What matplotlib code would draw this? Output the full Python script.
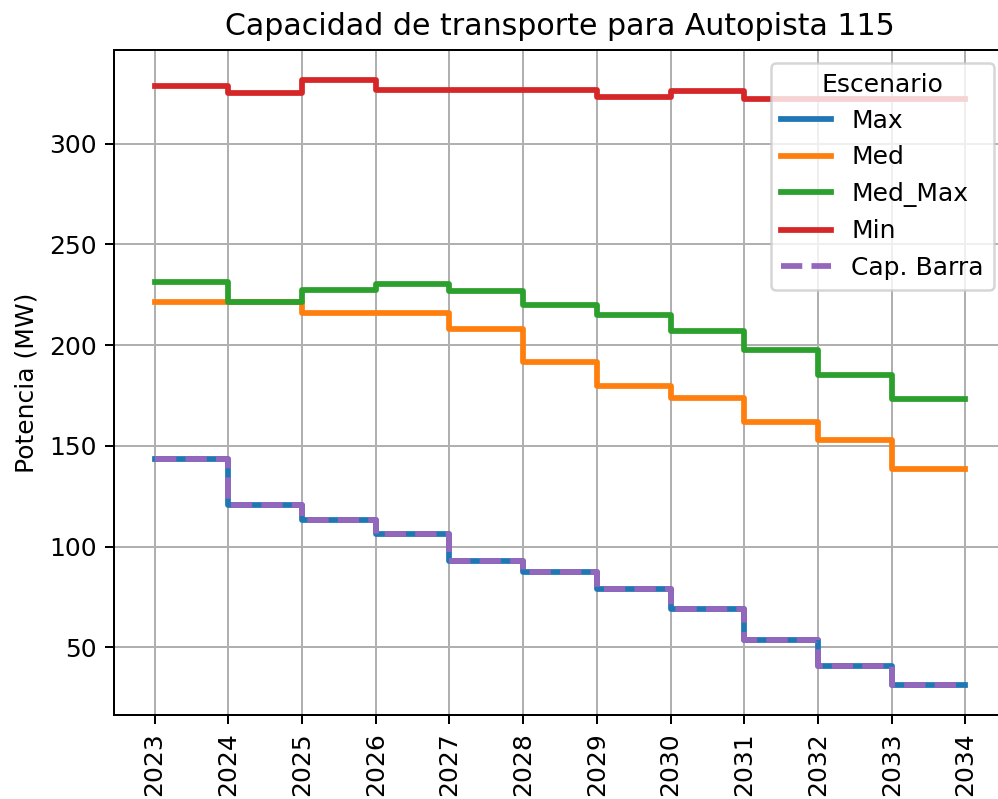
import matplotlib
matplotlib.use("Agg")
import matplotlib.pyplot as plt

years = [2023, 2024, 2025, 2026, 2027, 2028, 2029, 2030, 2031, 2032, 2033, 2034]
max_vals = [143.7, 120.6, 113.4, 106.3, 93.1, 87.4, 78.8, 69.3, 53.9, 40.6, 31.5, 31.5]
med_vals = [221.4, 221.4, 216.0, 216.0, 208.0, 191.6, 180.0, 173.9, 162.0, 152.8, 138.5, 138.5]
medmax_vals = [231.3, 221.4, 227.6, 230.3, 226.7, 219.8, 215.2, 207.3, 197.4, 185.0, 173.4, 173.4]
min_vals = [328.6, 325.2, 331.5, 326.6, 326.6, 326.6, 323.3, 326.1, 322.4, 322.4, 322.4, 322.4]
cap_barra = max_vals

W, H, DPI = 998, 799, 180
fig = plt.figure(figsize=(W / DPI, H / DPI), dpi=DPI)
ax = fig.add_axes([114 / W, (H - 715) / H, (1006 - 114) / W, (715 - 50) / H])

lw = 2.3
ax.step(years, max_vals, where='post', color='#1f77b4', lw=lw, label='Max')
ax.step(years, med_vals, where='post', color='#ff7f0e', lw=lw, label='Med')
ax.step(years, medmax_vals, where='post', color='#2ca02c', lw=lw, label='Med_Max')
ax.step(years, min_vals, where='post', color='#d62728', lw=lw, label='Min')
ax.step(years, cap_barra, where='post', color='#9467bd', lw=lw, ls='--', label='Cap. Barra')

ax.set_xticks(years)
ax.set_xticklabels([str(y) for y in years], rotation=90)
ax.grid(True)
ax.set_ylabel('Potencia (MW)')
ax.set_title('Capacidad de transporte para Autopista 115', fontsize=12)
ax.legend(title='Escenario', loc='upper right')

fig.savefig('out.png', dpi=DPI)
